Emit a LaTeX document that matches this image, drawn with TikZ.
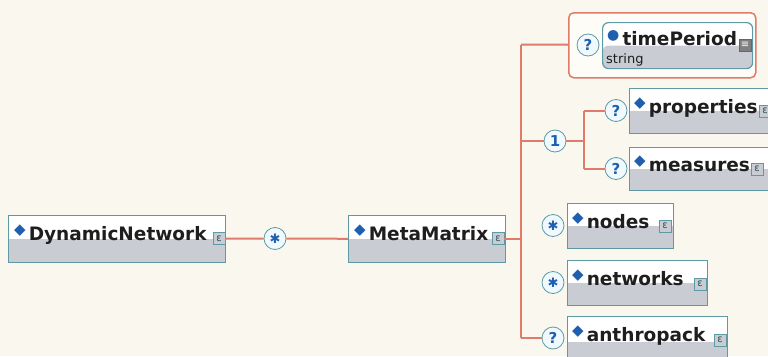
\documentclass[tikz,border=0pt]{standalone}
\usepackage{fontspec}
\setmainfont{DejaVu Sans}
\usetikzlibrary{calc}
\definecolor{bgcream}{HTML}{FAF8EE}
\definecolor{linkred}{HTML}{E07A6A}
\definecolor{boxteal}{HTML}{5E9AA6}
\definecolor{boxgray}{HTML}{C9CCD3}
\definecolor{markblue}{HTML}{1F5FB0}
\definecolor{labeltext}{HTML}{1E1E1E}
\newcommand{\dmd}{\textcolor{markblue}{\raisebox{.28em}{\fontsize{15}{15}\selectfont ◆}}}
\newcommand{\bul}{\textcolor{markblue}{\raisebox{.28em}{\fontsize{14}{14}\selectfont ●}}}
\begin{document}
\begin{tikzpicture}[x=1pt,y=-1pt,
  elem/.style={draw=boxteal,line width=1.2pt,fill=white,anchor=north west,inner sep=0pt,
    path picture={\fill[boxgray] (path picture bounding box.west) rectangle (path picture bounding box.south east);}},
  elemtext/.style={anchor=base west,inner sep=0pt,text=labeltext,font=\bfseries\fontsize{18.5}{21}\selectfont},
  kid/.style={draw=boxteal,fill=boxgray,line width=.8pt,minimum size=12,inner sep=0pt,text=boxteal!50!black,font=\fontsize{10}{10}\selectfont},
  occ/.style={circle,draw=boxteal,fill=cyan!6,line width=.8pt,minimum size=22,inner sep=0pt,text=markblue,font=\bfseries\fontsize{15}{15}\selectfont},
  link/.style={draw=linkred,line width=2pt}]
\useasboundingbox (0,0) rectangle (768,356);
\fill[bgcream] (0,0) rectangle (768,356);
\clip (0,0) rectangle (768,356);
% Root elements
\node[elem,minimum width=217,minimum height=47] (dn) at (8,215) {};
\node[elemtext] (dntext) at (14,240) {\dmd\,DynamicNetwork};
\node[kid] (dnkid) at (219,238.5) {ɛ};
\node[occ] (dnocc) at (275,238.5) {\fontsize{13}{13}\selectfont ✱};
\node[elem,minimum width=157,minimum height=47] (mm) at (348,215) {};
\node[elemtext] (mmtext) at (354,240) {\dmd\,MetaMatrix};
\node[kid] (mmkid) at (498,238.5) {ɛ};
\draw[link] (dnkid) -- (dnocc) -- (mm);
% Trunk
\coordinate (trunktop) at (521,44.5);
\coordinate (trunkbot) at (521,338);
\draw[link] (trunktop) -- (trunkbot);
\draw[link] (mmkid) -- (mmkid -| trunktop);
% timePeriod
\node[draw=linkred,line width=1.5pt,rounded corners=5,fill=white!55!bgcream,minimum width=187,minimum height=65,anchor=north west] (tpgroup) at (568,12) {};
\draw[link] (trunktop) -- (tpgroup);
\node[occ] (tpocc) at (588,45) {?};
\node[elem,rounded corners=6,minimum width=150,minimum height=46] (tp) at (602,22) {};
\node[elemtext] (tptext) at (607,45) {\bul\,timePeriod};
\node[elemtext,font=\fontsize{13}{14}\selectfont] (tptype) at (606,63) {string};
\node[kid,draw=black!60,fill=black!50,text=white,font=\fontsize{10}{10}\selectfont] (tpkid) at (745,45) {≡};
% Choice
\node[occ] (choice) at (555,141) {1};
\coordinate (subtop) at (584,110.5);
\coordinate (subbot) at (584,168.5);
\draw[link] (choice -| trunktop) -- (choice) -- (choice -| subtop);
\draw[link] (subtop) -- (subbot);
\node[occ] (propocc) at (616,110.5) {?};
\node[occ] (measocc) at (616,168.5) {?};
\draw[link] (subtop) -- (propocc);
\draw[link] (subbot) -- (measocc);
\node[elem,minimum width=150,minimum height=45] (prop) at (629,88) {};
\node[elemtext] (proptext) at (634,113) {\dmd\,properties};
\node[kid] (propkid) at (765,111) {ɛ};
\node[elem,minimum width=150,minimum height=43] (meas) at (629,147) {};
\node[elemtext] (meastext) at (634,171) {\dmd\,measures};
\node[kid] (measkid) at (757,169) {ɛ};
% Lists
\node[occ] (nodesocc) at (553,225.5) {\fontsize{13}{13}\selectfont ✱};
\node[elem,minimum width=106,minimum height=45] (nodes) at (567,203) {};
\node[elemtext] (nodestext) at (572,228) {\dmd\,nodes};
\node[kid] (nodeskid) at (665,226) {ɛ};
\node[occ] (netocc) at (553,282.5) {\fontsize{13}{13}\selectfont ✱};
\node[elem,minimum width=140,minimum height=45] (net) at (567,260) {};
\node[elemtext] (nettext) at (572,285) {\dmd\,networks};
\node[kid] (netkid) at (700,284) {ɛ};
\node[occ] (anthocc) at (553,338) {?};
\node[elem,minimum width=160,minimum height=50] (anth) at (567,316) {};
\node[elemtext] (anthtext) at (572,341) {\dmd\,anthropack};
\node[kid] (anthkid) at (720,340) {ɛ};
\draw[link] (trunkbot) -- (anthocc);
\end{tikzpicture}
\end{document}
